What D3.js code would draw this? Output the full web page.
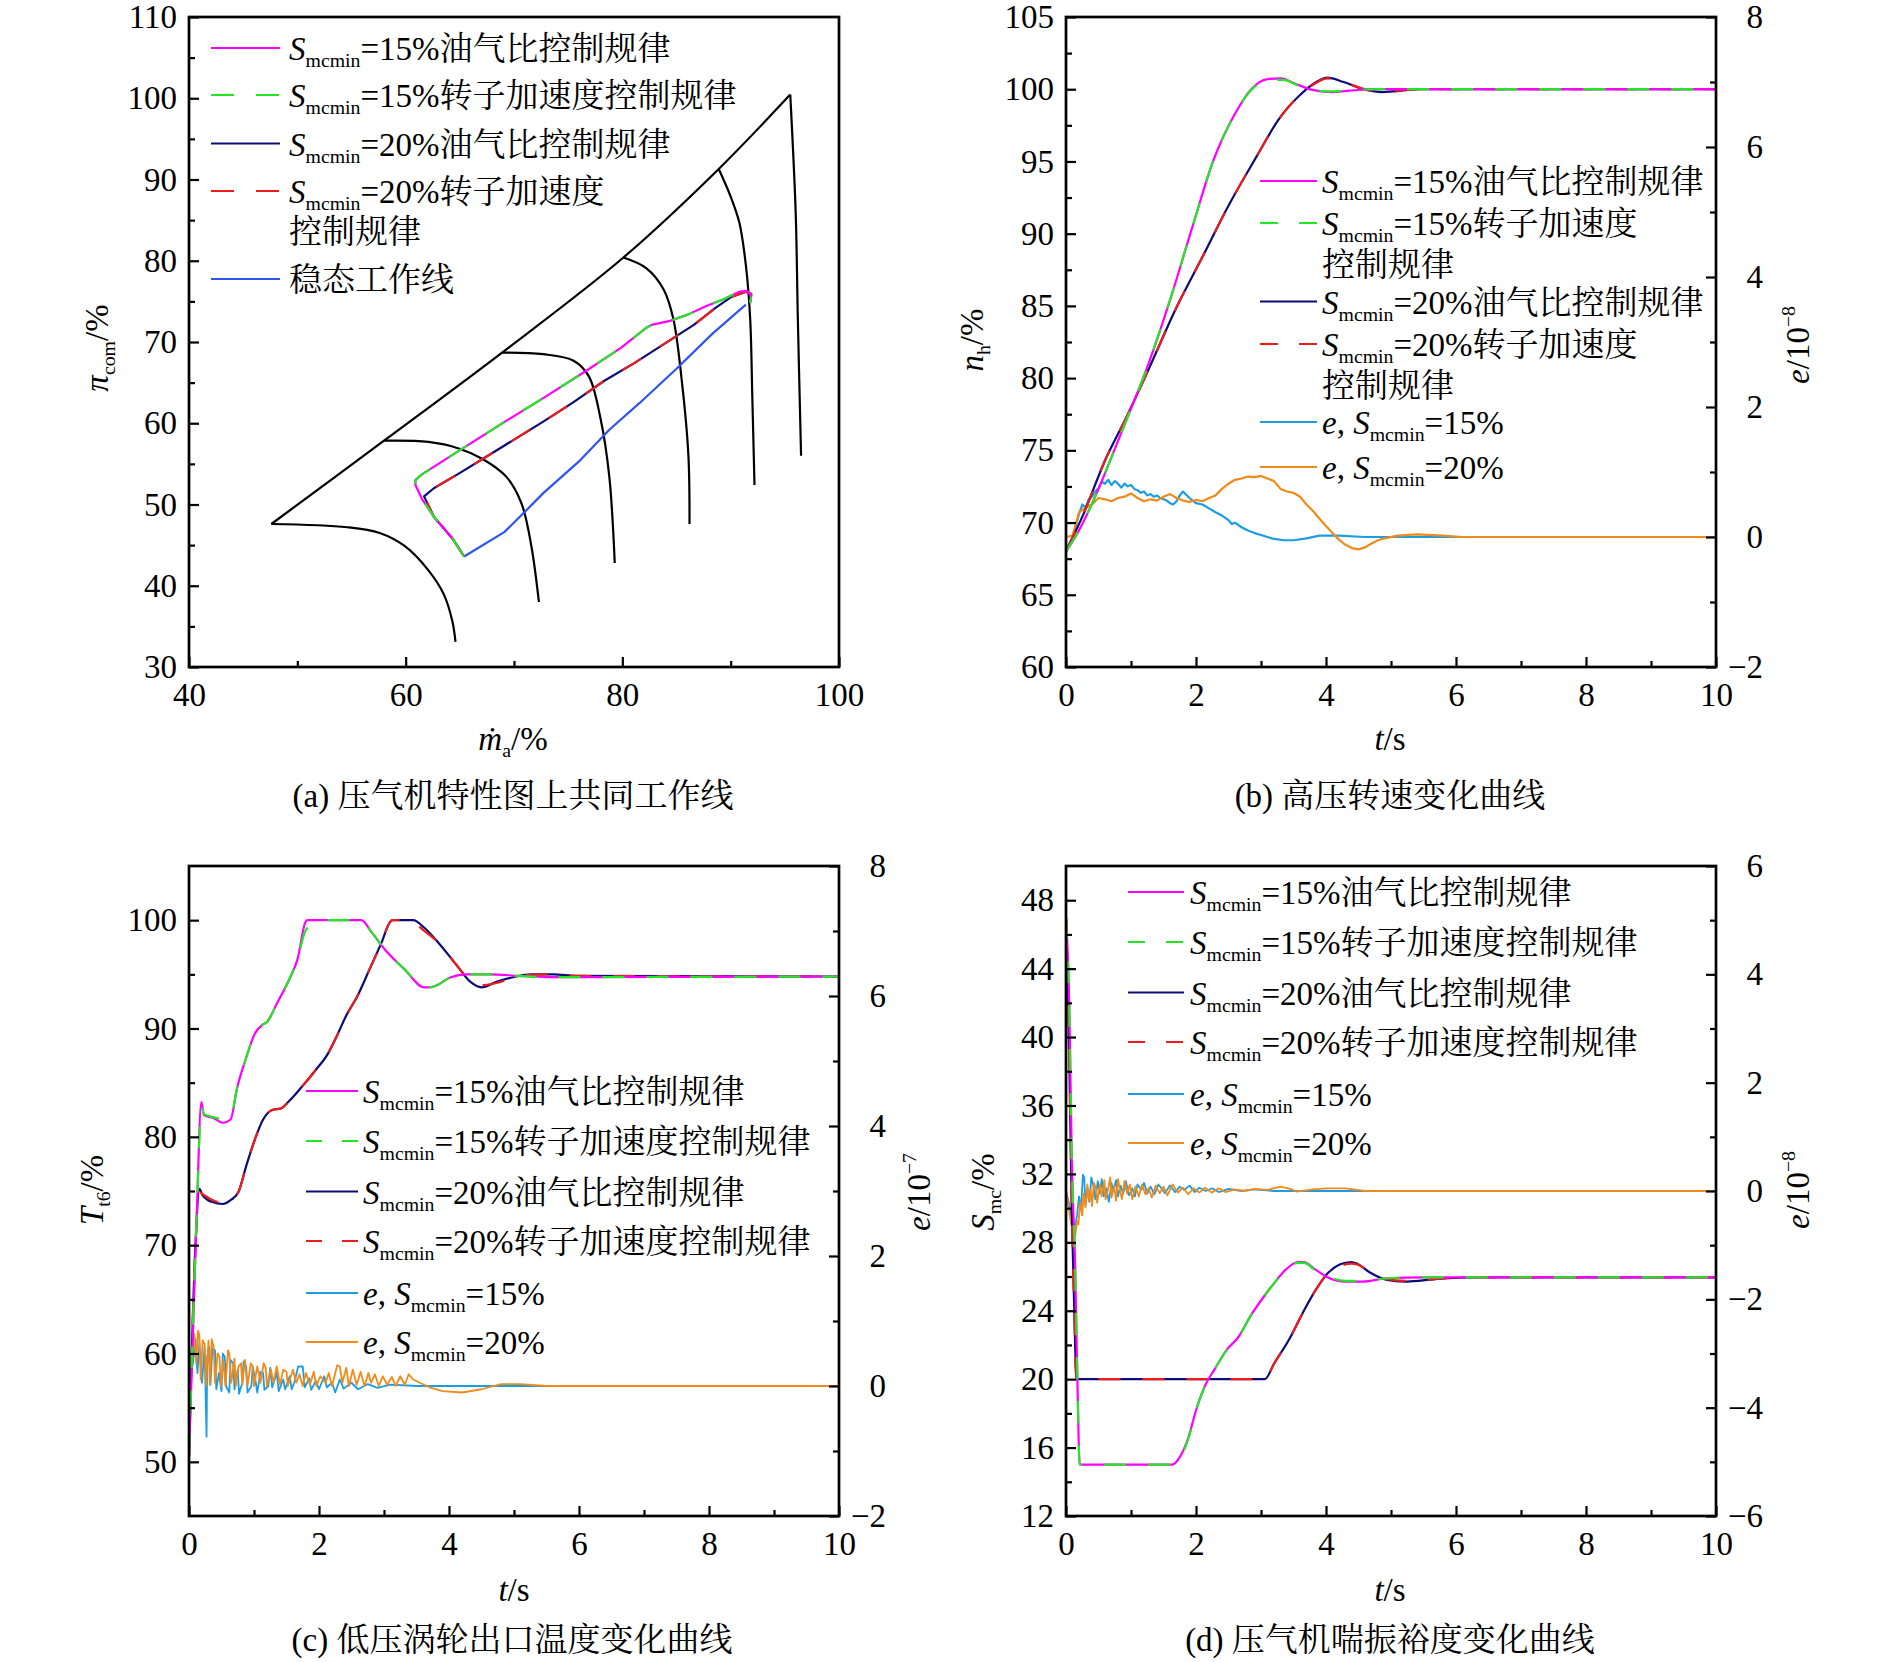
<!DOCTYPE html>
<html lang="zh">
<head>
<meta charset="UTF-8">
<title>压气机共同工作线与过渡态曲线</title>
<style>
    body { margin: 0; padding: 0; background: #fff; }
    svg { display: block; }
</style>
</head>
<body>
<script src="https://d3js.org/d3.v7.min.js"></script>
<script>
// ===== (a) 压气机特性图 =====
const surgeLine = [[47.6, 47.6], [58.0, 57.85], [68.9, 68.7], [80.1, 80.4], [88.9, 91.3], [95.5, 100.45]];
const speed1 = [[47.6, 47.6], [54.6, 47.2], [57.6, 46.5], [59.9, 44.9], [62.1, 41.9], [63.5, 39.0], [64.3, 35.7], [64.6, 33.1]];
const speed2 = [[58.0, 57.85], [62.1, 57.7], [64.9, 56.9], [67.1, 55.6], [69.3, 53.4], [70.7, 50.1], [71.6, 44.9], [72.3, 38.0]];
const speed3 = [[68.9, 68.7], [72.7, 68.5], [75.5, 67.7], [76.9, 65.8], [78.0, 60.5], [78.8, 53.4], [79.3, 42.8]];
const speed4 = [[80.1, 80.4], [82.2, 79.1], [83.8, 76.5], [84.7, 72.9], [85.5, 65.1], [86.1, 56.0], [86.2, 47.6]];
const speed5 = [[88.9, 91.3], [90.0, 87.9], [90.8, 84.7], [91.4, 79.5], [91.8, 72.9], [92.0, 63.1], [92.2, 52.4]];
const speed6 = [[95.5, 100.45], [96.0, 86.0], [96.2, 72.9], [96.5, 56.0]];
const path15 = [[65.4, 43.6], [64.3, 45.85], [62.6, 48.5], [61.5, 50.7], [60.9, 52.4], [60.9, 53.0], [61.5, 53.7], [64.9, 56.6], [68.8, 59.9], [72.7, 63.1], [76.6, 66.4], [79.9, 69.3], [82.2, 71.75], [82.7, 72.1], [84.4, 72.6], [86.1, 73.4], [87.7, 74.4], [89.4, 75.3], [90.8, 76.2], [91.5, 76.3], [91.9, 75.7], [91.8, 74.8]];
const path20 = [[65.4, 43.6], [64.3, 45.85], [62.6, 48.5], [61.7, 51.0], [62.6, 52.0], [64.9, 53.8], [67.1, 55.6], [69.9, 57.9], [72.7, 60.2], [75.5, 62.6], [78.3, 65.2], [81.1, 67.4], [83.8, 69.7], [86.6, 72.1], [88.6, 74.2], [90.0, 75.5], [91.4, 76.2], [91.9, 75.9], [91.8, 74.9]];
const steadyLine = [[65.4, 43.6], [69.1, 46.6], [71.0, 49.1], [72.7, 51.4], [76.0, 55.3], [78.8, 59.2], [81.6, 62.5], [85.0, 66.7], [88.3, 71.0], [91.4, 74.6]];

// ===== (b) 高压转速 =====
const nh15 = [[0, 68.0], [0.18, 69.3], [0.43, 71.6], [0.68, 74.3], [0.93, 77.1], [1.27, 81.0], [1.6, 85.4], [1.94, 90.4], [2.27, 95.1], [2.6, 98.3], [2.85, 100.0], [3.1, 100.7], [3.3, 100.75], [3.52, 100.4], [3.77, 99.97], [4.07, 99.8], [4.36, 99.9], [4.77, 100.0], [5.44, 100.0], [10, 100.0]];
const nh15a = [[0, 68.0], [0.18, 69.3], [0.43, 71.6], [0.68, 74.3], [0.93, 77.1], [1.27, 81.0], [1.6, 85.4], [1.94, 90.4], [2.27, 95.1], [2.6, 98.3], [2.85, 99.95], [3.1, 100.6], [3.35, 100.65], [3.55, 100.3], [3.8, 99.95], [4.07, 99.85], [4.4, 99.95], [4.8, 100.0], [5.44, 100.0], [10, 100.0]];
const nh20 = [[0, 68.0], [0.27, 70.6], [0.6, 74.3], [0.93, 77.3], [1.27, 80.6], [1.69, 84.8], [2.1, 88.4], [2.52, 92.1], [2.94, 95.4], [3.27, 97.9], [3.6, 99.6], [3.85, 100.5], [4.02, 100.8], [4.27, 100.5], [4.6, 99.97], [4.86, 99.8], [5.1, 99.87], [5.44, 100.0], [10, 100.0]];
const nh20a = [[0, 68.0], [0.27, 70.6], [0.6, 74.3], [0.93, 77.3], [1.27, 80.6], [1.69, 84.8], [2.1, 88.4], [2.52, 92.1], [2.94, 95.4], [3.27, 97.9], [3.6, 99.6], [3.85, 100.45], [4.02, 100.75], [4.27, 100.5], [4.6, 100.0], [4.86, 99.85], [5.1, 99.9], [5.44, 100.0], [10, 100.0]];
const eb15 = [[0, -0.2], [0.1, 0.0], [0.2, 0.35], [0.25, 0.5], [0.3, 0.45], [0.35, 0.58], [0.4, 0.62], [0.45, 0.7], [0.5, 0.75], [0.55, 0.85], [0.6, 0.82], [0.65, 0.88], [0.7, 0.8], [0.75, 0.86], [0.8, 0.82], [0.85, 0.76], [0.9, 0.82], [0.95, 0.78], [1.0, 0.8], [1.05, 0.74], [1.1, 0.72], [1.15, 0.68], [1.2, 0.7], [1.25, 0.64], [1.3, 0.66], [1.35, 0.62], [1.4, 0.64], [1.45, 0.6], [1.5, 0.58], [1.55, 0.56], [1.6, 0.52], [1.65, 0.5], [1.7, 0.55], [1.75, 0.64], [1.8, 0.7], [1.85, 0.65], [1.9, 0.6], [1.95, 0.56], [2.0, 0.52], [2.1, 0.5], [2.2, 0.44], [2.3, 0.38], [2.4, 0.33], [2.5, 0.26], [2.55, 0.2], [2.6, 0.22], [2.7, 0.15], [2.8, 0.1], [2.9, 0.06], [3.0, 0.03], [3.1, 0.0], [3.2, -0.03], [3.35, -0.05], [3.5, -0.05], [3.7, -0.02], [3.9, 0.02], [4.2, 0.02], [4.6, 0.0], [5, 0], [10, 0]];
const eb20 = [[0, 0], [0.1, 0.02], [0.2, 0.38], [0.3, 0.45], [0.4, 0.5], [0.5, 0.6], [0.6, 0.58], [0.7, 0.55], [0.8, 0.6], [0.9, 0.62], [1.0, 0.67], [1.1, 0.6], [1.2, 0.55], [1.3, 0.58], [1.4, 0.56], [1.5, 0.62], [1.6, 0.66], [1.7, 0.6], [1.8, 0.56], [1.9, 0.54], [2.0, 0.57], [2.1, 0.55], [2.2, 0.6], [2.3, 0.64], [2.4, 0.74], [2.5, 0.82], [2.6, 0.88], [2.7, 0.9], [2.8, 0.93], [2.9, 0.92], [3.0, 0.94], [3.1, 0.9], [3.2, 0.86], [3.3, 0.74], [3.4, 0.7], [3.5, 0.68], [3.6, 0.62], [3.7, 0.5], [3.8, 0.4], [3.9, 0.28], [4.0, 0.17], [4.1, 0.06], [4.2, -0.04], [4.3, -0.12], [4.4, -0.17], [4.5, -0.19], [4.6, -0.16], [4.7, -0.1], [4.8, -0.05], [4.9, -0.02], [5.1, 0.02], [5.4, 0.04], [5.8, 0.02], [6.1, 0], [10, 0]];

// ===== (c) 低压涡轮出口温度 =====
const tt15 = [[0, 50.5], [0.12, 73], [0.19, 83.2], [0.23, 82], [0.39, 81.7], [0.52, 81.3], [0.64, 81.6], [0.74, 84.5], [0.88, 87.3], [1.01, 89.5], [1.12, 90.3], [1.2, 90.6], [1.36, 92.4], [1.54, 94.5], [1.67, 96.4], [1.79, 99.8], [1.82, 100], [2.65, 100], [2.82, 98.8], [3.04, 97.1], [3.31, 95.5], [3.62, 93.8], [3.75, 93.85], [4.02, 94.7], [4.28, 95.0], [4.64, 95.0], [5.08, 94.85], [5.52, 94.75], [6, 94.75], [10, 94.8]];
const tt15a = [[0, 50.5], [0.12, 73], [0.19, 82.8], [0.23, 82.1], [0.39, 81.8], [0.52, 81.6], [0.64, 81.8], [0.74, 84.5], [0.88, 87.3], [1.01, 89.5], [1.12, 90.3], [1.2, 90.6], [1.36, 92.4], [1.54, 94.5], [1.67, 96.4], [1.79, 99.0], [1.9, 99.6], [2.0, 100], [2.65, 100], [2.82, 98.8], [3.04, 97.1], [3.31, 95.5], [3.62, 93.8], [3.75, 93.85], [4.02, 94.7], [4.28, 95.0], [4.64, 95.0], [5.08, 94.85], [5.52, 94.75], [6, 94.75], [10, 94.8]];
const tt20 = [[0, 50.5], [0.1, 70.1], [0.16, 75.2], [0.21, 74.6], [0.35, 74.0], [0.52, 73.8], [0.65, 74.2], [0.76, 74.9], [0.88, 77.3], [1.01, 79.7], [1.14, 81.6], [1.29, 82.5], [1.41, 82.6], [1.54, 83.3], [1.72, 84.5], [1.94, 86.1], [2.14, 87.7], [2.25, 89.0], [2.42, 91.2], [2.6, 93.1], [2.78, 95.5], [2.96, 97.9], [3.09, 99.8], [3.13, 100], [3.45, 100], [3.62, 99.3], [3.84, 97.9], [4.11, 95.9], [4.33, 94.3], [4.5, 93.8], [4.73, 94.3], [5.0, 94.75], [5.26, 95], [5.61, 95], [5.96, 94.85], [10, 94.8]];
const tt20a = [[0, 50.5], [0.1, 70.1], [0.16, 74.9], [0.21, 74.7], [0.35, 74.2], [0.52, 73.9], [0.65, 74.2], [0.76, 74.9], [0.88, 77.3], [1.01, 79.7], [1.14, 81.6], [1.29, 82.5], [1.41, 82.6], [1.54, 83.3], [1.72, 84.5], [1.94, 86.1], [2.14, 87.7], [2.25, 89.0], [2.42, 91.2], [2.6, 93.1], [2.78, 95.5], [2.96, 97.9], [3.09, 99.8], [3.13, 100], [3.4, 100], [3.6, 99.1], [3.84, 97.9], [4.11, 95.9], [4.33, 94.4], [4.5, 94.0], [4.73, 94.2], [5.0, 94.7], [5.26, 94.95], [5.61, 95], [5.96, 94.85], [10, 94.8]];
const ec15 = [[0, 0], [0.06, 0.35], [0.1, 0.72], [0.13, 0.2], [0.16, 0.65], [0.2, 0.05], [0.24, 0.6], [0.27, -0.78], [0.28, 0.45], [0.31, 0.6], [0.33, 0.02], [0.36, 0.58], [0.4, 0.55], [0.42, -0.05], [0.46, 0.2], [0.5, -0.08], [0.52, 0.5], [0.55, 0.45], [0.57, 0.0], [0.62, -0.1], [0.64, 0.4], [0.68, 0.35], [0.7, -0.05], [0.75, 0.25], [0.77, -0.12], [0.82, 0.05], [0.84, 0.38], [0.88, 0.3], [0.9, -0.1], [0.96, 0.0], [0.98, 0.3], [1.02, 0.1], [1.05, -0.1], [1.1, 0.22], [1.14, 0.2], [1.16, -0.06], [1.22, 0.0], [1.25, 0.28], [1.28, -0.02], [1.35, 0.2], [1.38, -0.08], [1.45, 0.1], [1.48, -0.05], [1.55, 0.15], [1.58, -0.05], [1.62, 0.05], [1.68, 0.3], [1.75, 0.3], [1.78, -0.02], [1.85, 0.12], [1.88, -0.06], [1.95, 0.08], [2.0, -0.05], [2.08, 0.15], [2.12, -0.02], [2.2, 0.05], [2.25, -0.1], [2.32, 0.1], [2.38, -0.04], [2.5, 0.05], [2.6, -0.05], [2.75, 0.03], [2.9, -0.03], [3.1, 0.02], [3.5, 0.0], [4, 0], [10, 0]];
const ec20 = [[0, 0], [0.04, 0.45], [0.08, 0.8], [0.11, 0.35], [0.14, 0.85], [0.16, 0.78], [0.18, 0.1], [0.21, 0.7], [0.24, 0.65], [0.26, 0.0], [0.3, 0.7], [0.32, 0.02], [0.35, 0.72], [0.38, 0.6], [0.4, 0.05], [0.44, 0.5], [0.47, 0.45], [0.49, 0.0], [0.53, 0.4], [0.56, 0.0], [0.6, 0.55], [0.62, 0.5], [0.65, 0.05], [0.7, 0.42], [0.72, 0.0], [0.76, 0.3], [0.8, 0.35], [0.82, 0.02], [0.86, 0.4], [0.9, 0.0], [0.95, 0.35], [0.98, 0.3], [1.0, 0.0], [1.05, 0.3], [1.1, 0.05], [1.15, 0.35], [1.18, 0.28], [1.2, 0.0], [1.26, 0.25], [1.3, 0.05], [1.35, 0.3], [1.4, 0.02], [1.45, 0.25], [1.5, 0.22], [1.52, 0.0], [1.6, 0.25], [1.65, 0.05], [1.7, 0.18], [1.75, 0.0], [1.8, 0.2], [1.86, 0.02], [1.92, 0.22], [1.96, 0.0], [2.02, 0.15], [2.1, 0.05], [2.15, 0.2], [2.2, 0.0], [2.28, 0.32], [2.32, 0.3], [2.36, 0.05], [2.42, 0.28], [2.46, 0.0], [2.52, 0.25], [2.58, 0.02], [2.64, 0.22], [2.7, 0.0], [2.76, 0.2], [2.8, 0.05], [2.86, 0.18], [2.92, 0.0], [2.98, 0.15], [3.05, 0.02], [3.12, 0.14], [3.18, 0.0], [3.25, 0.15], [3.32, 0.02], [3.38, 0.18], [3.45, 0.1], [3.55, 0.05], [3.7, -0.02], [3.9, -0.08], [4.2, -0.1], [4.5, -0.05], [4.8, 0.03], [5.1, 0.03], [5.5, 0.0], [10, 0]];

// ===== (d) 压气机喘振裕度 =====
const sm15 = [[0, 47], [0.05, 41.9], [0.09, 32.7], [0.14, 26.7], [0.18, 19.1], [0.21, 15.0], [1.63, 15], [1.76, 15.5], [1.88, 16.55], [2.01, 18.3], [2.15, 19.7], [2.29, 20.6], [2.47, 21.7], [2.65, 22.45], [2.84, 23.7], [3.02, 24.7], [3.2, 25.6], [3.38, 26.4], [3.57, 26.85], [3.66, 26.85], [3.84, 26.4], [4.03, 25.95], [4.3, 25.7], [4.57, 25.7], [4.94, 25.9], [5.49, 25.95], [6.13, 25.95], [10, 25.95]];
const sm15a = [[0, 47], [0.05, 41.9], [0.09, 32.7], [0.14, 26.7], [0.18, 19.1], [0.21, 15.0], [1.63, 15], [1.76, 15.4], [1.88, 16.5], [2.01, 18.3], [2.15, 19.7], [2.29, 20.6], [2.47, 21.7], [2.65, 22.45], [2.84, 23.7], [3.02, 24.7], [3.2, 25.6], [3.38, 26.4], [3.57, 26.8], [3.66, 26.8], [3.84, 26.35], [4.03, 26.0], [4.3, 25.75], [4.57, 25.75], [4.94, 25.9], [5.49, 25.95], [6.13, 25.95], [10, 25.95]];
const sm20 = [[0, 47], [0.05, 38.8], [0.09, 29.7], [0.13, 23.6], [0.16, 20], [3.06, 20], [3.2, 20.9], [3.43, 22.3], [3.66, 24.0], [3.84, 25.2], [4.03, 26.2], [4.21, 26.7], [4.39, 26.85], [4.48, 26.75], [4.67, 26.25], [4.94, 25.8], [5.21, 25.7], [5.49, 25.77], [5.86, 25.9], [6.31, 25.95], [10, 25.95]];
const sm20a = [[0, 47], [0.05, 38.8], [0.09, 29.7], [0.13, 23.6], [0.16, 20], [3.06, 20], [3.2, 20.9], [3.43, 22.3], [3.66, 24.0], [3.84, 25.2], [4.03, 26.2], [4.21, 26.6], [4.39, 26.75], [4.48, 26.7], [4.67, 26.3], [4.94, 25.85], [5.21, 25.75], [5.49, 25.8], [5.86, 25.9], [6.31, 25.95], [10, 25.95]];
const ed15 = [[0, 0], [0.05, -0.25], [0.09, -0.55], [0.13, -0.7], [0.17, -0.45], [0.2, -0.1], [0.23, -0.35], [0.26, 0.3], [0.28, 0.25], [0.3, -0.25], [0.33, 0.05], [0.36, -0.2], [0.39, 0.25], [0.42, 0.1], [0.45, -0.15], [0.49, 0.18], [0.52, -0.05], [0.55, 0.22], [0.58, -0.1], [0.62, 0.05], [0.66, -0.2], [0.7, 0.15], [0.73, 0.0], [0.77, 0.2], [0.8, -0.1], [0.84, 0.1], [0.88, -0.05], [0.92, 0.18], [0.97, -0.08], [1.02, 0.05], [1.06, -0.1], [1.1, 0.12], [1.16, 0.02], [1.2, 0.15], [1.25, -0.05], [1.3, 0.08], [1.36, -0.06], [1.42, 0.12], [1.47, 0.05], [1.52, -0.04], [1.6, 0.1], [1.68, -0.02], [1.75, 0.08], [1.82, 0.02], [1.9, 0.1], [1.98, -0.02], [2.05, 0.06], [2.15, 0.0], [2.25, 0.05], [2.35, -0.02], [2.5, 0.04], [2.7, 0.0], [2.9, 0.03], [3.2, 0.0], [10, 0]];
const ed20 = [[0, 0], [0.04, -0.3], [0.08, -0.62], [0.12, -0.78], [0.14, -0.84], [0.17, -0.55], [0.19, -0.62], [0.22, -0.2], [0.25, -0.45], [0.27, -0.05], [0.3, -0.3], [0.33, 0.12], [0.35, -0.18], [0.38, 0.02], [0.4, -0.28], [0.43, 0.15], [0.46, 0.05], [0.48, -0.22], [0.52, 0.12], [0.55, -0.1], [0.59, 0.2], [0.61, -0.15], [0.65, 0.05], [0.68, 0.25], [0.7, -0.12], [0.74, 0.1], [0.77, -0.18], [0.8, 0.22], [0.83, 0.02], [0.86, -0.15], [0.9, 0.18], [0.94, -0.05], [0.98, 0.12], [1.02, -0.15], [1.07, 0.08], [1.12, -0.1], [1.17, 0.12], [1.22, -0.06], [1.27, 0.05], [1.32, -0.12], [1.38, 0.1], [1.44, -0.04], [1.5, 0.08], [1.56, -0.08], [1.64, 0.12], [1.72, -0.03], [1.8, 0.06], [1.88, -0.06], [1.96, 0.05], [2.05, -0.03], [2.14, 0.06], [2.24, -0.03], [2.35, 0.05], [2.45, -0.02], [2.6, 0.03], [2.75, 0.0], [2.9, 0.04], [3.1, 0.02], [3.3, 0.08], [3.45, 0.04], [3.55, -0.01], [3.8, 0.03], [4.0, 0.05], [4.3, 0.05], [4.6, 0.0], [5, 0], [10, 0]];

// 刻度
const aXTicks = [40, 60, 80, 100], aXMinor = [50, 70, 90];
const aYTicks = [30, 40, 50, 60, 70, 80, 90, 100, 110], aYMinor = [35, 45, 55, 65, 75, 85, 95, 105];
const tTicks = [0, 2, 4, 6, 8, 10], tMinor = [1, 3, 5, 7, 9];
const bYTicks = [60, 65, 70, 75, 80, 85, 90, 95, 100, 105], bYMinor = [62.5, 67.5, 72.5, 77.5, 82.5, 87.5, 92.5, 97.5, 102.5];
const eTicks8 = [-2, 0, 2, 4, 6, 8], eMinor8 = [-1, 1, 3, 5, 7];
const cYTicks = [50, 60, 70, 80, 90, 100], cYMinor = [55, 65, 75, 85, 95];
const dYTicks = [12, 16, 20, 24, 28, 32, 36, 40, 44, 48], dYMinor = [14, 18, 22, 26, 30, 34, 38, 42, 46];
const dY2Ticks = [-6, -4, -2, 0, 2, 4, 6], dY2Minor = [-5, -3, -1, 1, 3, 5];

// 图例与标题文字
const law15oil = [['S', 'i'], ['mcmin', 'sub'], ['=15%油气比控制规律', 'n']];
const law15acc = [['S', 'i'], ['mcmin', 'sub'], ['=15%转子加速度控制规律', 'n']];
const law15accA = [['S', 'i'], ['mcmin', 'sub'], ['=15%转子加速度', 'n']];
const law20oil = [['S', 'i'], ['mcmin', 'sub'], ['=20%油气比控制规律', 'n']];
const law20acc = [['S', 'i'], ['mcmin', 'sub'], ['=20%转子加速度控制规律', 'n']];
const law20accA = [['S', 'i'], ['mcmin', 'sub'], ['=20%转子加速度', 'n']];
const lawTail = [['控制规律', 'n']];
const steadyName = [['稳态工作线', 'n']];
const err15 = [['e', 'i'], [', ', 'n'], ['S', 'i'], ['mcmin', 'sub'], ['=15%', 'n']];
const err20 = [['e', 'i'], [', ', 'n'], ['S', 'i'], ['mcmin', 'sub'], ['=20%', 'n']];
const captions = ['(a) 压气机特性图上共同工作线', '(b) 高压转速变化曲线', '(c) 低压涡轮出口温度变化曲线', '(d) 压气机喘振裕度变化曲线'];

// 颜色
const C = {
    mag: '#ff00ff', green: '#22e822', navy: '#0c0c78', red: '#ee1c1c',
    steady: '#2d55ee', eBlue: '#1b9de4', eOrange: '#f28a1a', black: '#000'
};
const FONT = "'Liberation Serif','Noto Serif CJK SC','Noto Sans CJK SC',serif";
const FS = 33;

const svg = d3.select('body').append('svg')
    .attr('width', 1890).attr('height', 1662)
    .attr('font-family', FONT);

// 带上下标的文字
function rich(t, parts, size) {
    let shift = 0;
    parts.forEach(([s, k]) => {
        const sp = t.append('tspan').text(s);
        let target = 0;
        if (k === 'sub') { target = size * 0.22; sp.attr('font-size', size * 0.6); }
        if (k === 'sup') { target = -size * 0.42; sp.attr('font-size', size * 0.6); }
        if (k === 'i') sp.attr('font-style', 'italic');
        if (target !== shift) { sp.attr('dy', target - shift); shift = target; }
    });
}

function panel(p) {
    const x = d3.scaleLinear().domain(p.xDom).range([p.left, p.left + p.w]);
    const y = d3.scaleLinear().domain(p.yDom).range([p.top + p.h, p.top]);
    const y2 = p.y2Dom ? d3.scaleLinear().domain(p.y2Dom).range([p.top + p.h, p.top]) : null;
    svg.append('clipPath').attr('id', 'clip-' + p.id)
        .append('rect').attr('x', p.left).attr('y', p.top).attr('width', p.w).attr('height', p.h);
    const plot = svg.append('g').attr('clip-path', `url(#clip-${p.id})`);
    const axes = svg.append('g');
    return { p, x, y, y2, plot, axes };
}

function styleAxis(s) {
    s.attr('font-family', FONT).attr('font-size', FS);
    s.select('.domain').remove();
    s.selectAll('.tick line').attr('stroke', '#000').attr('stroke-width', 2.2);
    s.selectAll('.tick text').attr('fill', '#000');
}

function drawAxes(P, ticks) {
    const p = P.p, g = P.axes, fmt = d3.format('d');
    const bottom = p.top + p.h, right = p.left + p.w;
    g.append('g').attr('transform', `translate(0,${bottom})`)
        .call(d3.axisBottom(P.x).tickValues(ticks.x).tickSize(-10).tickPadding(16).tickFormat(fmt)).call(styleAxis);
    g.append('g').attr('transform', `translate(0,${bottom})`)
        .call(d3.axisBottom(P.x).tickValues(ticks.xm).tickSize(-6).tickFormat('')).call(styleAxis);
    g.append('g').attr('transform', `translate(${p.left},0)`)
        .call(d3.axisLeft(P.y).tickValues(ticks.y).tickSize(-10).tickPadding(12).tickFormat(fmt)).call(styleAxis);
    g.append('g').attr('transform', `translate(${p.left},0)`)
        .call(d3.axisLeft(P.y).tickValues(ticks.ym).tickSize(-6).tickFormat('')).call(styleAxis);
    if (P.y2) {
        g.append('g').attr('transform', `translate(${right},0)`)
            .call(d3.axisRight(P.y2).tickValues(ticks.y2).tickSize(-10).tickPadding(0).tickFormat(fmt)).call(styleAxis)
            .call(s => s.selectAll('.tick text').attr('x', 47).attr('text-anchor', 'end'));
        g.append('g').attr('transform', `translate(${right},0)`)
            .call(d3.axisRight(P.y2).tickValues(ticks.y2m).tickSize(-6).tickFormat('')).call(styleAxis);
    }
    g.append('rect').attr('x', p.left).attr('y', p.top).attr('width', p.w).attr('height', p.h)
        .attr('fill', 'none').attr('stroke', '#000').attr('stroke-width', 2.7);
}

function addLine(P, data, color, opt = {}) {
    const ys = opt.right ? P.y2 : P.y;
    const line = d3.line().x(d => P.x(d[0])).y(d => ys(d[1])).curve(opt.curve || d3.curveLinear);
    P.plot.append('path').datum(data)
        .attr('d', line)
        .attr('fill', 'none')
        .attr('stroke', color)
        .attr('stroke-width', opt.w || 2.2)
        .attr('stroke-linejoin', 'round')
        .attr('stroke-dasharray', opt.dash || null);
}

// 图例：行中心 y
function legendRow(P, y, x1, x2, tx, color, dash, parts) {
    if (color) {
        P.axes.append('line').attr('x1', x1).attr('x2', x2).attr('y1', y).attr('y2', y)
            .attr('stroke', color).attr('stroke-width', 2.2).attr('stroke-dasharray', dash || null);
    }
    const t = P.axes.append('text').attr('x', tx).attr('y', y + 12).attr('font-size', FS).attr('fill', '#000');
    rich(t, parts, FS);
}

function xTitle(x, y, parts) {
    const t = svg.append('text').attr('x', x).attr('y', y).attr('text-anchor', 'middle').attr('font-size', FS);
    rich(t, parts, FS);
}
function yTitle(x, y, parts) {
    const t = svg.append('text').attr('transform', `translate(${x},${y}) rotate(-90)`)
        .attr('text-anchor', 'middle').attr('font-size', FS);
    rich(t, parts, FS);
}

const smooth = d3.curveMonotoneX;
const DASH = '22,22';

// ---------- (a) ----------
const A = panel({ id: 'a', left: 189, top: 17, w: 650, h: 650, xDom: [40, 100], yDom: [30, 110] });
addLine(A, surgeLine, C.black, { curve: d3.curveCatmullRom.alpha(0.5) });
[speed1, speed2, speed3, speed4, speed5, speed6].forEach(s => addLine(A, s, C.black, { curve: d3.curveCatmullRom.alpha(0.5) }));
addLine(A, steadyLine, C.steady);
addLine(A, path20, C.navy);
addLine(A, path20, C.red, { dash: DASH });
addLine(A, path15, C.mag);
addLine(A, path15, C.green, { dash: DASH });
drawAxes(A, { x: aXTicks, xm: aXMinor, y: aYTicks, ym: aYMinor });
legendRow(A, 48, 211, 280, 289, C.mag, null, law15oil);
legendRow(A, 95, 211, 280, 289, C.green, '23,22', law15acc);
legendRow(A, 143.5, 211, 280, 289, C.navy, null, law20oil);
legendRow(A, 191, 211, 280, 289, C.red, '23,22', law20accA);
legendRow(A, 231, 0, 0, 289, null, null, lawTail);
legendRow(A, 279, 211, 280, 289, C.steady, null, steadyName);
xTitle(513, 750, [['ṁ', 'i'], ['a', 'sub'], ['/%', 'n']]);
yTitle(108, 348, [['π', 'i'], ['com', 'sub'], ['/%', 'n']]);

// ---------- (b) ----------
const B = panel({ id: 'b', left: 1066, top: 17, w: 650, h: 650, xDom: [0, 10], yDom: [60, 105], y2Dom: [-2, 8] });
addLine(B, eb15, C.eBlue, { right: true });
addLine(B, eb20, C.eOrange, { right: true });
addLine(B, nh20, C.navy, { curve: smooth });
addLine(B, nh20a, C.red, { curve: smooth, dash: DASH });
addLine(B, nh15, C.mag, { curve: smooth });
addLine(B, nh15a, C.green, { curve: smooth, dash: DASH });
drawAxes(B, { x: tTicks, xm: tMinor, y: bYTicks, ym: bYMinor, y2: eTicks8, y2m: eMinor8 });
legendRow(B, 181, 1260, 1317, 1322, C.mag, null, law15oil);
legendRow(B, 223, 1260, 1317, 1322, C.green, '18,21', law15accA);
legendRow(B, 264, 0, 0, 1322, null, null, lawTail);
legendRow(B, 301.5, 1260, 1317, 1322, C.navy, null, law20oil);
legendRow(B, 344, 1260, 1317, 1322, C.red, '18,21', law20accA);
legendRow(B, 385, 0, 0, 1322, null, null, lawTail);
legendRow(B, 422, 1260, 1317, 1322, C.eBlue, null, err15);
legendRow(B, 467, 1260, 1317, 1322, C.eOrange, null, err20);
xTitle(1390, 750, [['t', 'i'], ['/s', 'n']]);
yTitle(983, 340, [['n', 'i'], ['h', 'sub'], ['/%', 'n']]);
yTitle(1809, 345, [['e', 'i'], ['/10', 'n'], ['−8', 'sup']]);

// ---------- (c) ----------
const Cp = panel({ id: 'c', left: 189, top: 866, w: 650, h: 650, xDom: [0, 10], yDom: [45, 105], y2Dom: [-2, 8] });
addLine(Cp, ec15, C.eBlue, { right: true, w: 1.8 });
addLine(Cp, ec20, C.eOrange, { right: true, w: 1.8 });
addLine(Cp, tt20, C.navy, { curve: smooth });
addLine(Cp, tt20a, C.red, { curve: smooth, dash: DASH });
addLine(Cp, tt15, C.mag, { curve: smooth });
addLine(Cp, tt15a, C.green, { curve: smooth, dash: DASH });
drawAxes(Cp, { x: tTicks, xm: tMinor, y: cYTicks, ym: cYMinor, y2: eTicks8, y2m: eMinor8 });
legendRow(Cp, 1091, 306, 358, 363, C.mag, null, law15oil);
legendRow(Cp, 1141, 306, 358, 363, C.green, '16,20', law15acc);
legendRow(Cp, 1191.5, 306, 358, 363, C.navy, null, law20oil);
legendRow(Cp, 1241, 306, 358, 363, C.red, '16,20', law20acc);
legendRow(Cp, 1293, 306, 358, 363, C.eBlue, null, err15);
legendRow(Cp, 1342, 306, 358, 363, C.eOrange, null, err20);
xTitle(514, 1601, [['t', 'i'], ['/s', 'n']]);
yTitle(103, 1190, [['T', 'i'], ['t6', 'sub'], ['/%', 'n']]);
yTitle(930, 1192, [['e', 'i'], ['/10', 'n'], ['−7', 'sup']]);

// ---------- (d) ----------
const D = panel({ id: 'd', left: 1066, top: 866, w: 650, h: 650, xDom: [0, 10], yDom: [12, 50], y2Dom: [-6, 6] });
addLine(D, ed15, C.eBlue, { right: true, w: 1.8 });
addLine(D, ed20, C.eOrange, { right: true, w: 1.8 });
addLine(D, sm20, C.navy, { curve: smooth });
addLine(D, sm20a, C.red, { curve: smooth, dash: DASH });
addLine(D, sm15, C.mag, { curve: smooth });
addLine(D, sm15a, C.green, { curve: smooth, dash: DASH });
drawAxes(D, { x: tTicks, xm: tMinor, y: dYTicks, ym: dYMinor, y2: dY2Ticks, y2m: dY2Minor });
legendRow(D, 892, 1128, 1184, 1190, C.mag, null, law15oil);
legendRow(D, 942, 1128, 1184, 1190, C.green, '17,21', law15acc);
legendRow(D, 992.5, 1128, 1184, 1190, C.navy, null, law20oil);
legendRow(D, 1042, 1128, 1184, 1190, C.red, '17,21', law20acc);
legendRow(D, 1094, 1128, 1184, 1190, C.eBlue, null, err15);
legendRow(D, 1143, 1128, 1184, 1190, C.eOrange, null, err20);
xTitle(1390, 1601, [['t', 'i'], ['/s', 'n']]);
yTitle(994, 1192, [['S', 'i'], ['mc', 'sub'], ['/%', 'n']]);
yTitle(1809, 1190, [['e', 'i'], ['/10', 'n'], ['−8', 'sup']]);

// 子图标题
[[513, 807], [1390, 807], [512, 1651], [1390, 1651]].forEach((pos, i) => {
    svg.append('text').attr('x', pos[0]).attr('y', pos[1])
        .attr('text-anchor', 'middle').attr('font-size', FS).attr('fill', '#000')
        .text(captions[i]);
});
</script>
</body>
</html>
